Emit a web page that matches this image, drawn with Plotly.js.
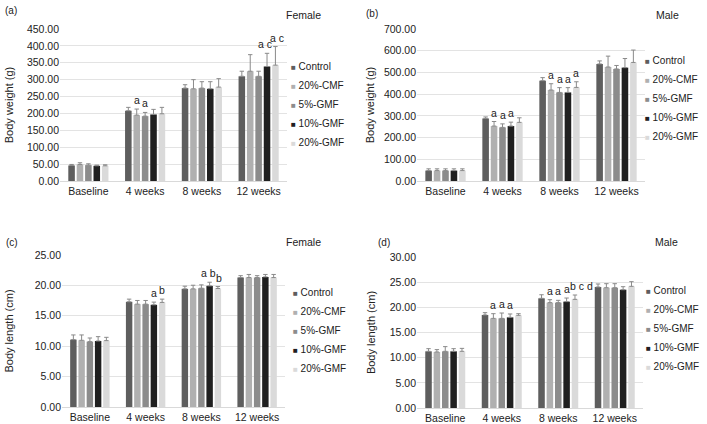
<!DOCTYPE html>
<html>
<head>
<meta charset="utf-8">
<script src="https://cdn.plot.ly/plotly-3.0.1.min.js"></script>
<style>html,body{margin:0;padding:0;background:#fff;}#chart{width:707px;height:424px;}</style>
</head>
<body>
<div id="chart"></div>
<script>
// ---------- DATA ----------
const categories = ['Baseline', '4 weeks', '8 weeks', '12 weeks'];
const groups = ['Control', '20%-CMF', '5%-GMF', '10%-GMF', '20%-GMF'];

// (a) Female body weight (g): rows = groups, columns = time points
const femaleWeight = [
  [46, 208, 275, 310],
  [49, 195, 273, 325],
  [47, 192, 275, 310],
  [45, 197, 273, 339],
  [45, 199, 278, 343]
];
const femaleWeightErr = [
  [3, 10, 10, 15],
  [5, 18, 27, 49],
  [4, 11, 19, 15],
  [2, 15, 21, 39],
  [3, 19, 25, 55]
];
// (b) Male body weight (g)
const maleWeight = [
  [48, 288, 462, 539],
  [48, 253, 419, 525],
  [48, 247, 408, 516],
  [48, 253, 408, 522],
  [48, 270, 431, 546]
];
const maleWeightErr = [
  [8, 7, 14, 14],
  [8, 21, 29, 50],
  [8, 16, 22, 16],
  [8, 18, 22, 42],
  [8, 21, 26, 57]
];
// (c) Female body length (cm)
const femaleLength = [
  [11.08, 17.30, 19.43, 21.29],
  [10.97, 16.92, 19.43, 21.29],
  [10.75, 16.92, 19.54, 21.29],
  [10.86, 16.81, 19.92, 21.40],
  [10.92, 17.20, 19.49, 21.29]
];
const femaleLengthErr = [
  [0.77, 0.44, 0.44, 0.31],
  [0.88, 0.60, 0.60, 0.51],
  [0.60, 0.60, 0.55, 0.31],
  [0.71, 0.44, 0.60, 0.40],
  [0.54, 0.54, 0.32, 0.51]
];
// (d) Male body length (cm)
const maleLength = [
  [11.26, 18.48, 21.79, 24.04],
  [11.13, 17.81, 20.93, 23.90],
  [11.26, 17.81, 20.93, 23.90],
  [11.26, 18.01, 21.13, 23.50],
  [11.26, 18.41, 21.59, 24.17]
];
const maleLengthErr = [
  [0.53, 0.46, 0.71, 0.60],
  [0.47, 0.93, 0.59, 0.80],
  [0.93, 1.06, 0.46, 0.80],
  [0.53, 0.67, 0.72, 0.60],
  [0.59, 0.33, 0.86, 0.93]
];
// significance letters: [time index, group index, text, horizontal nudge px]
const lettersA = [[1, 1, 'a', 0], [1, 2, 'a', 0], [3, 3, 'a c', -2], [3, 4, 'a c', 2]];
const lettersB = [[1, 1, 'a', 0], [1, 2, 'a', 0], [1, 3, 'a', 0], [2, 1, 'a', 0], [2, 2, 'a', 0], [2, 3, 'a', 0], [2, 4, 'a', 0]];
const lettersC = [[1, 3, 'a', 0], [1, 4, 'b', 0], [2, 3, 'a b', -1], [2, 4, 'b', 1]];
const lettersD = [[1, 1, 'a', 0], [1, 2, 'a', 0], [1, 3, 'a', 0], [2, 1, 'a', 0], [2, 2, 'a', 0], [2, 3, 'a', 0], [2, 4, 'b c d', 7]];

// ---------- STYLE ----------
const colors = ['#5e5e5e', '#b0b0b0', '#8c8c8c', '#202020', '#dadada'];
const FONT = 'Liberation Sans, Arial, sans-serif';
const W = 707, H = 424;
const BARGAP = 0.26;

const panels = [
  {means: femaleWeight, errs: femaleWeightErr, letters: lettersA, ax: '', legend: 'legend',
   xpx: [60, 287], ypx: [29, 181], range: [0, 450], dtick: 50, title: 'Body weight (g)', standoff: 11,
   tag: '(a)', tagpos: [3, 10], sex: 'Female', sexpos: [284, 15], legpos: [251, 52], legfont: 10},
  {means: maleWeight, errs: maleWeightErr, letters: lettersB, ax: '2', legend: 'legend2',
   xpx: [417, 645], ypx: [29, 181], range: [0, 700], dtick: 100, title: 'Body weight (g)', standoff: 7,
   tag: '(b)', tagpos: [364, 13], sex: 'Male', sexpos: [654, 15], legpos: [605, 46], legfont: 10},
  {means: femaleLength, errs: femaleLengthErr, letters: lettersC, ax: '3', legend: 'legend3',
   xpx: [62, 285], ypx: [255, 407], range: [0, 25], dtick: 5, title: 'Body length (cm)', standoff: 18,
   tag: '(c)', tagpos: [4, 242], sex: 'Female', sexpos: [284, 242], legpos: [253, 278], legfont: 10},
  {means: maleLength, errs: maleLengthErr, letters: lettersD, ax: '4', legend: 'legend4',
   xpx: [417, 643], ypx: [257, 408], range: [0, 30], dtick: 5, title: 'Body length (cm)', standoff: 11,
   tag: '(d)', tagpos: [376, 242], sex: 'Male', sexpos: [653, 242], legpos: [606, 276], legfont: 10}
];

const traces = [];
const layout = {
  width: W, height: H,
  margin: {l: 0, r: 0, t: 0, b: 0, autoexpand: false},
  paper_bgcolor: '#ffffff', plot_bgcolor: '#ffffff',
  font: {family: FONT, size: 10, color: '#222'},
  barmode: 'group', bargap: BARGAP, bargroupgap: 0.22,
  annotations: [],
  showlegend: true
};

panels.forEach(function (p) {
  const xa = 'x' + p.ax, ya = 'y' + p.ax;
  groups.forEach(function (g, gi) {
    traces.push({
      type: 'bar', name: g, x: categories, y: p.means[gi],
      xaxis: xa, yaxis: ya, showlegend: false,
      marker: {color: colors[gi]},
      error_y: {type: 'data', array: p.errs[gi], arrayminus: p.errs[gi].map(function () { return 0; }),
                symmetric: false, color: '#8a8a8a', thickness: 1, width: 2.2},
      hoverinfo: 'x+y+name'
    });
  });
  // legend entries: small square swatch drawn as part of the entry text
  groups.forEach(function (g, gi) {
    traces.push({
      type: 'scatter', mode: 'markers',
      name: '<span style="color:' + colors[gi] + ';font-size:8px">\u25A0</span> ' + g,
      x: [null], y: [null],
      xaxis: xa, yaxis: ya, legend: p.legend, showlegend: true,
      marker: {symbol: 'square', size: 1, color: 'rgba(0,0,0,0)'}, hoverinfo: 'skip'
    });
  });

  const xkey = 'xaxis' + p.ax, ykey = 'yaxis' + p.ax;
  layout[xkey] = {
    domain: [p.xpx[0] / W, p.xpx[1] / W], anchor: ya,
    type: 'category', showgrid: false, zeroline: false,
    showline: true, linecolor: '#d9d9d9', linewidth: 1,
    ticks: '', tickfont: {size: 10.5, color: '#222'}, ticklabelstandoff: 0,
    automargin: false, fixedrange: true
  };
  layout[ykey] = {
    domain: [1 - p.ypx[1] / H, 1 - p.ypx[0] / H], anchor: xa,
    range: p.range, dtick: p.dtick, tickformat: '.2f',
    showgrid: true, gridcolor: '#e3e3e3', gridwidth: 1,
    zeroline: false, showline: false, ticks: '',
    tickfont: {size: 10.5, color: '#222'},
    title: {text: p.title, font: {size: 11, color: '#222'}, standoff: p.standoff},
    automargin: false, fixedrange: true
  };
  layout[p.legend] = {
    x: p.legpos[0] / W, y: 1 - p.legpos[1] / H, xanchor: 'left', yanchor: 'top',
    bgcolor: 'rgba(0,0,0,0)', font: {size: p.legfont, color: '#222'},
    itemwidth: 30, tracegroupgap: 0
  };
  // panel tag and sex label
  layout.annotations.push({
    xref: 'paper', yref: 'paper', x: p.tagpos[0] / W, y: 1 - p.tagpos[1] / H,
    xanchor: 'left', yanchor: 'middle', text: p.tag, showarrow: false, font: {size: 10, color: '#222'}
  });
  layout.annotations.push({
    xref: 'paper', yref: 'paper', x: p.sexpos[0] / W, y: 1 - p.sexpos[1] / H,
    xanchor: 'left', yanchor: 'middle', text: p.sex, showarrow: false, font: {size: 10.5, color: '#222'}
  });
  // significance letters placed above each error bar
  const slot = (1 - BARGAP) / groups.length;
  p.letters.forEach(function (L) {
    const ti = L[0], gi = L[1];
    layout.annotations.push({
      xref: xa, yref: ya, x: ti + (gi - (groups.length - 1) / 2) * slot,
      y: p.means[gi][ti] + p.errs[gi][ti],
      xanchor: 'center', yanchor: 'bottom', text: L[2], showarrow: false,
      font: {size: 10.5, color: '#222'}, yshift: 1, xshift: L[3]
    });
  });
});

Plotly.newPlot('chart', traces, layout, {displayModeBar: false, staticPlot: true});
</script>
</body>
</html>
